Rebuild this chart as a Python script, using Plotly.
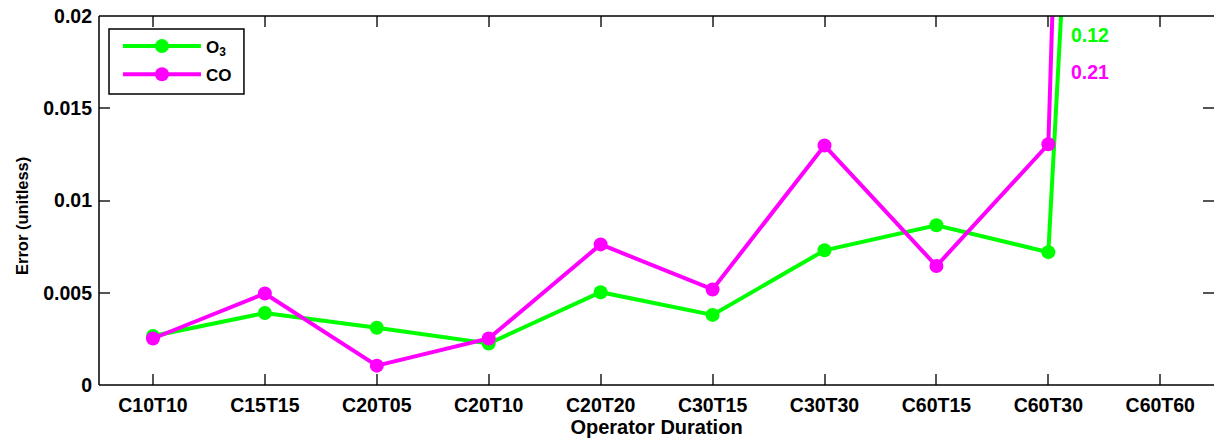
import plotly.graph_objects as go

categories = ["C10T10", "C15T15", "C20T05", "C20T10", "C20T20",
              "C30T15", "C30T30", "C60T15", "C60T30", "C60T60"]
o3_err = [0.00266, 0.0039, 0.0031, 0.00225, 0.00503, 0.0038, 0.00730, 0.00866, 0.00720, 0.12]
co_err = [0.00252, 0.00496, 0.00105, 0.00252, 0.00762, 0.00518, 0.01298, 0.00645, 0.01305, 0.21]
y_ticks = [0, 0.005, 0.01, 0.015, 0.02]
y_tick_labels = ["0", "0.005", "0.01", "0.015", "0.02"]

GREEN = "#00ff00"
MAGENTA = "#ff00ff"
FONT = "Liberation Sans"

x_idx = list(range(len(categories)))

fig = go.Figure()
fig.add_trace(go.Scatter(x=x_idx, y=o3_err, mode="lines+markers", name="<b>O<sub>3</sub></b>",
                         legendgroup="o3",
                         line=dict(color=GREEN, width=4),
                         marker=dict(color=GREEN, size=14, symbol="circle")))
fig.add_trace(go.Scatter(x=x_idx, y=co_err, mode="lines+markers", name="<b>CO</b>",
                         legendgroup="co",
                         line=dict(color=MAGENTA, width=4),
                         marker=dict(color=MAGENTA, size=14, symbol="circle")))

# off-scale values annotations
fig.add_annotation(x=8.18, y=0.01897, text="<b>%.2f</b>" % o3_err[-1], showarrow=False,
                   xanchor="left", yanchor="middle", font=dict(color=GREEN, size=19.5, family=FONT))
fig.add_annotation(x=8.18, y=0.01697, text="<b>%.2f</b>" % co_err[-1], showarrow=False,
                   xanchor="left", yanchor="middle", font=dict(color=MAGENTA, size=19.5, family=FONT))

# y axis title (placed slightly below centre, as in the reference)
fig.add_annotation(xref="paper", yref="paper", x=0, y=0.458, xshift=-77, textangle=-90,
                   text="<b>Error (unitless)</b>", showarrow=False,
                   xanchor="center", yanchor="middle", font=dict(size=16.5, family=FONT))

# axis frame lines (left, bottom, top)
for x0, y0, x1, y1 in [(0, 0, 0, 1), (0, 0, 1, 0), (0, 1, 1, 1)]:
    fig.add_shape(type="line", xref="paper", yref="paper", x0=x0, y0=y0, x1=x1, y1=y1,
                  line=dict(color="black", width=1.5))
# legend box
fig.add_shape(type="rect", xref="paper", yref="paper", x0=0.00897, x1=0.130, y0=0.7886, y1=0.9648,
              line=dict(color="black", width=1.5), fillcolor="rgba(0,0,0,0)")

fig.update_layout(
    width=1214, height=444,
    margin=dict(l=99, r=0, t=16, b=59),
    plot_bgcolor="white", paper_bgcolor="white",
    font=dict(family=FONT, color="black"),
    showlegend=True,
    legend=dict(x=0.017, y=0.966, xanchor="left", yanchor="top",
                borderwidth=0, bgcolor="rgba(0,0,0,0)",
                font=dict(size=17, family=FONT), itemwidth=78,
                tracegroupgap=3),
    xaxis=dict(range=[-0.482, 9.48], tickvals=x_idx, ticktext=["<b>%s</b>" % c for c in categories],
               ticks="inside", ticklen=11, tickcolor="#555555", tickwidth=1.5, mirror="ticks",
               showline=False, showgrid=False, zeroline=False, ticklabelstandoff=6,
               tickfont=dict(size=19.5, family=FONT),
               title=dict(text="<b>Operator Duration</b>", font=dict(size=20, family=FONT), standoff=2)),
    yaxis=dict(range=[0, 0.02], tickvals=y_ticks, ticktext=["<b>%s</b>" % t for t in y_tick_labels],
               ticks="inside", ticklen=11, tickcolor="#555555", tickwidth=1.5, mirror="ticks",
               showline=False, showgrid=False, zeroline=False, ticklabelstandoff=6,
               tickfont=dict(size=19.5, family=FONT)),
)

fig.write_html("out.html")
